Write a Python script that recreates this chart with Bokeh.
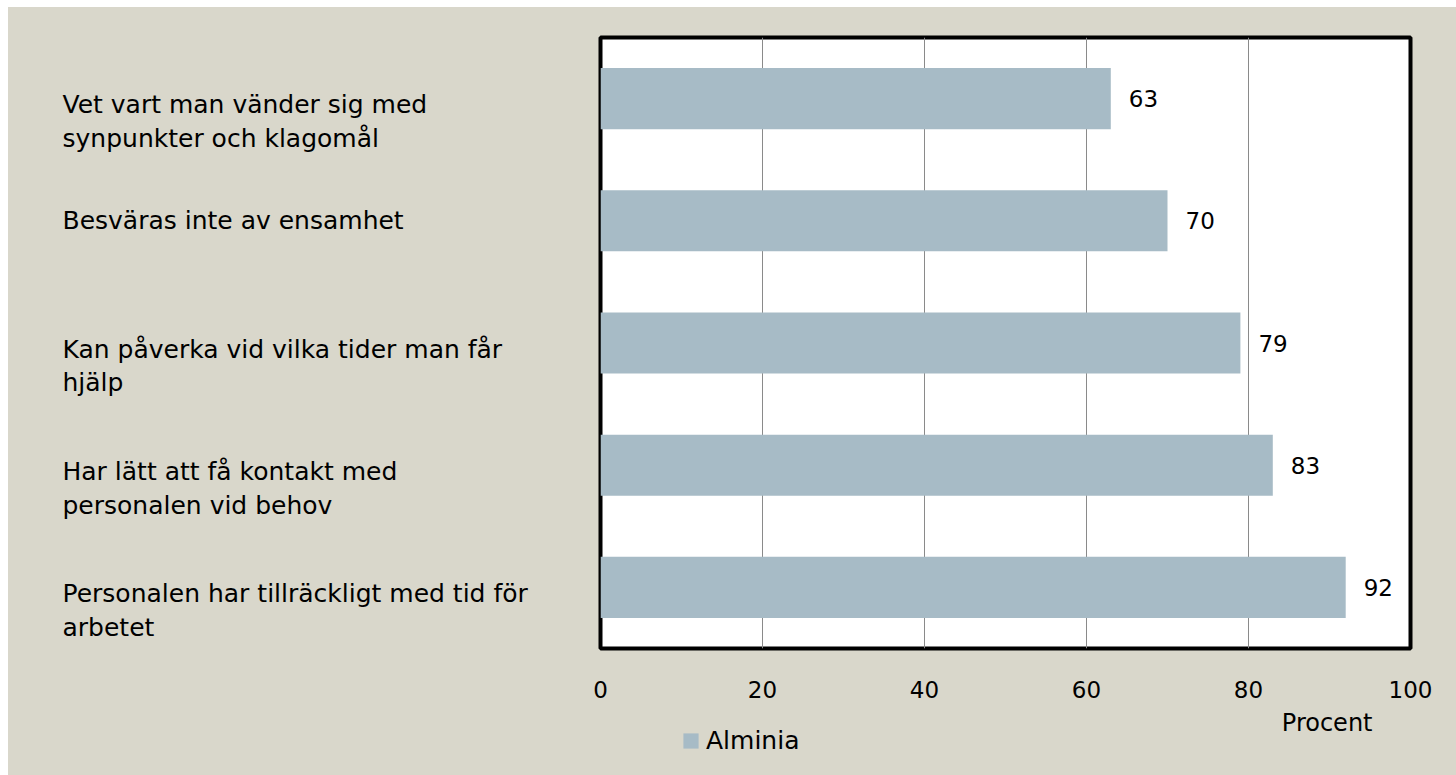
from bokeh.plotting import figure
from bokeh.layouts import row, column
from bokeh.models import (ColumnDataSource, Range1d, FixedTicker,
                          Legend, LegendItem)
from bokeh.core.properties import value
from bokeh.embed import file_html
from bokeh.resources import INLINE

categories = [
    "Vet vart man vänder sig med\nsynpunkter och klagomål",
    "Besväras inte av ensamhet",
    "Kan påverka vid vilka tider man får\nhjälp",
    "Har lätt att få kontakt med\npersonalen vid behov",
    "Personalen har tillräckligt med tid för\narbetet",
]
values = [63, 70, 79, 83, 92]
series_name = "Alminia"
x_ticks = [0, 20, 40, 60, 80, 100]
x_title = "Procent"

FONT = "DejaVu Sans"
BG = "#d9d7cb"
BAR = "#a7bbc6"

pos = list(range(len(categories)))
src = ColumnDataSource(dict(
    y=pos,
    v=values,
    vt=[str(v) for v in values],
    cat=categories,
    yoff=[23 if "\n" in c else 0 for c in categories],
))

y_range = Range1d(len(categories) - 0.5, -0.5)
H = 768
BT = 30
BL, BR = 10, 46


def plain(fig):
    fig.axis.visible = False
    fig.grid.visible = False
    fig.outline_line_color = None
    fig.background_fill_color = None
    fig.border_fill_color = BG


# left panel with category labels
lp = figure(width=582, height=H, output_backend="svg", toolbar_location=None,
            x_range=Range1d(0, 582), y_range=y_range,
            min_border_left=0, min_border_right=0, min_border_top=BT,
            min_border_bottom=127)
plain(lp)
lp.text(x=54, y="y", text="cat", source=src, y_offset="yoff",
        text_baseline="middle", text_align="left", text_font=value(FONT),
        text_font_size="25px", text_color="black", text_line_height=1.17)

# main chart
p = figure(width=866, height=700, output_backend="svg", toolbar_location=None,
           x_range=Range1d(0, 100), y_range=y_range,
           min_border_left=BL, min_border_right=BR, min_border_top=BT,
           min_border_bottom=59)
p.background_fill_color = "white"
p.border_fill_color = BG
p.outline_line_color = "black"
p.outline_line_width = 4

bars = p.hbar(y="y", left=0, right="v", height=0.5, source=src,
              fill_color=BAR, line_color=None)

p.text(x="v", y="y", text="vt", source=src, x_offset=18,
       text_baseline="middle", text_align="left", text_font=value(FONT),
       text_font_size="23px", text_color="black")

p.yaxis.visible = False
p.ygrid.visible = False
p.xgrid.grid_line_color = "#8a8a8a"
p.xgrid.grid_line_width = 1
p.xaxis.ticker = FixedTicker(ticks=x_ticks)
p.xaxis.axis_line_color = None
p.xaxis.major_tick_line_color = None
p.xaxis.minor_tick_line_color = None
p.xaxis.major_label_text_font = FONT
p.xaxis.major_label_text_font_size = "23px"
p.xaxis.major_label_text_color = "black"
p.xaxis.major_label_standoff = 26

# bottom strip: axis title and legend
bp = figure(width=866, height=68, output_backend="svg", toolbar_location=None,
            x_range=Range1d(0, 100), y_range=Range1d(0, 68),
            min_border_left=BL, min_border_right=BR, min_border_top=0,
            min_border_bottom=0)
plain(bp)
bp.text(x=[100], y=[53], text=[x_title], x_offset=-38, text_align="right",
        text_baseline="middle", text_font=value(FONT), text_font_size="24px",
        text_color="black")
# legend swatch: same series, hidden in this strip (only its legend shows)
swatch = bp.hbar(y="y", left=0, right="v", height=0.5, source=src,
                 fill_color=BAR, line_color=None, visible=False)
legend = Legend(items=[LegendItem(label=series_name, renderers=[swatch])],
                location=(81, 20), orientation="horizontal",
                background_fill_alpha=0, border_line_color=None,
                inactive_fill_alpha=0,
                label_text_font=FONT, label_text_font_size="25px",
                label_text_color="black",
                glyph_width=19, glyph_height=19, label_standoff=6, padding=0,
                margin=0)
bp.add_layout(legend, "center")

layout = row(lp, column(p, bp, spacing=0), spacing=0)
layout.margin = (7, 0, 0, 8)
layout.styles = {"background-color": BG}
open("out.html", "w").write(file_html(layout, INLINE))
